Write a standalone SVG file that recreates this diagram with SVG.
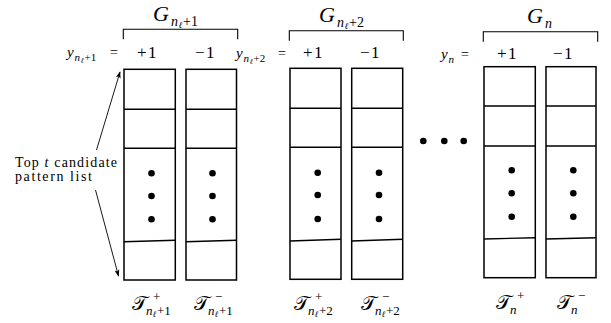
<svg xmlns="http://www.w3.org/2000/svg" width="611" height="323" viewBox="0 0 611 323">
<defs>
<style>
.box{fill:#fff;stroke:#000;stroke-width:1.5}
.div{stroke:#000;stroke-width:1.4;fill:none}
.br{stroke:#000;stroke-width:1.1;fill:none}
.dot{fill:#000}
text{font-family:"Liberation Serif","DejaVu Serif",serif;fill:#000}
.m{font-style:italic}
.u{font-style:normal}
.cal{font-family:"DejaVu Sans","Noto Sans",serif;font-style:normal}
.conn{stroke:#000;stroke-width:0.9;fill:none}
</style>
<marker id="ah" viewBox="0 0 10 10" refX="9" refY="5" markerWidth="7" markerHeight="7" orient="auto" markerUnits="userSpaceOnUse">
<path d="M0,1.5 L10,5 L0,8.5 L2.5,5 Z" fill="#000"/>
</marker>
</defs>
<rect width="611" height="323" fill="#fff"/>

<!-- group headers -->
<g id="header1">
<path class="br" d="M123.3,39.3 V29.3 H237.7 V39.3"/>
<text><tspan class="m" x="153" y="21" font-size="22">G</tspan><tspan class="m" x="171" y="25.5" font-size="14">n</tspan><tspan class="m" x="178.5" y="28" font-size="9">ℓ</tspan><tspan class="u" x="183" y="25.5" font-size="14">+1</tspan></text>
<text><tspan class="m" x="67" y="57" font-size="15">y</tspan><tspan class="m" x="74.5" y="60.5" font-size="11">n</tspan><tspan class="m" x="80.5" y="62.5" font-size="7.5">ℓ</tspan><tspan class="u" x="84.5" y="60.5" font-size="11">+1</tspan><tspan class="u" x="110" y="57" font-size="14">=</tspan></text>
<text class="u" x="137" y="58" font-size="17" letter-spacing="1.5">+1</text>
<text class="u" x="195" y="58" font-size="17" letter-spacing="1.5">−1</text>
</g>
<g id="header2">
<path class="br" d="M289.3,40.7 V30.7 H403.3 V40.7"/>
<text><tspan class="m" x="319" y="22" font-size="22">G</tspan><tspan class="m" x="337" y="26.5" font-size="14">n</tspan><tspan class="m" x="344.5" y="29" font-size="9">ℓ</tspan><tspan class="u" x="349" y="26.5" font-size="14">+2</tspan></text>
<text><tspan class="m" x="236" y="58" font-size="15">y</tspan><tspan class="m" x="243.5" y="61.5" font-size="11">n</tspan><tspan class="m" x="249.5" y="63.5" font-size="7.5">ℓ</tspan><tspan class="u" x="253.5" y="61.5" font-size="11">+2</tspan><tspan class="u" x="278" y="58" font-size="14">=</tspan></text>
<text class="u" x="303" y="58" font-size="17" letter-spacing="1.5">+1</text>
<text class="u" x="360" y="58" font-size="17" letter-spacing="1.5">−1</text>
</g>
<g id="header3">
<path class="br" d="M483.3,41.7 V31.7 H597.7 V41.7"/>
<text><tspan class="m" x="527" y="23" font-size="22">G</tspan><tspan class="m" x="545" y="27.5" font-size="14">n</tspan></text>
<text><tspan class="m" x="441" y="59" font-size="15">y</tspan><tspan class="m" x="448.5" y="62.5" font-size="11">n</tspan><tspan class="u" x="461" y="59" font-size="14">=</tspan></text>
<text class="u" x="497" y="59" font-size="17" letter-spacing="1.5">+1</text>
<text class="u" x="553" y="59" font-size="17" letter-spacing="1.5">−1</text>
</g>

<!-- columns -->
<g id="col1">
<rect class="box" x="124" y="69.3" width="51.3" height="210.7"/>
<line class="div" x1="124" y1="109.3" x2="175.3" y2="109.3"/>
<line class="div" x1="124" y1="148.3" x2="175.3" y2="148.3"/>
<line class="div" x1="124" y1="241.7" x2="175.3" y2="240.3"/>
<circle class="dot" cx="151.5" cy="173.3" r="3.3"/>
<circle class="dot" cx="151.5" cy="196" r="3.3"/>
<circle class="dot" cx="151.5" cy="219.3" r="3.3"/>
</g>
<g id="col2">
<rect class="box" x="186" y="69.3" width="50.5" height="210.7"/>
<line class="div" x1="186" y1="109.3" x2="236.5" y2="109.3"/>
<line class="div" x1="186" y1="148.3" x2="236.5" y2="148.3"/>
<line class="div" x1="186" y1="241.7" x2="236.5" y2="240.3"/>
<circle class="dot" cx="212.5" cy="173.3" r="3.3"/>
<circle class="dot" cx="212.5" cy="196" r="3.3"/>
<circle class="dot" cx="212.5" cy="219.3" r="3.3"/>
</g>
<g id="col3">
<rect class="box" x="290" y="68.3" width="51" height="211"/>
<line class="div" x1="290" y1="108.3" x2="341" y2="108.3"/>
<line class="div" x1="290" y1="147.3" x2="341" y2="147.3"/>
<line class="div" x1="290" y1="241" x2="341" y2="239.3"/>
<circle class="dot" cx="317.7" cy="172.7" r="3.3"/>
<circle class="dot" cx="317.7" cy="195" r="3.3"/>
<circle class="dot" cx="317.7" cy="219" r="3.3"/>
</g>
<g id="col4">
<rect class="box" x="351.7" y="68.3" width="51" height="211"/>
<line class="div" x1="351.7" y1="108.3" x2="402.7" y2="108.3"/>
<line class="div" x1="351.7" y1="147.3" x2="402.7" y2="147.3"/>
<line class="div" x1="351.7" y1="241" x2="402.7" y2="239.3"/>
<circle class="dot" cx="379" cy="172.7" r="3.3"/>
<circle class="dot" cx="379" cy="195" r="3.3"/>
<circle class="dot" cx="379" cy="219" r="3.3"/>
</g>
<g id="hdots">
<circle class="dot" cx="423.3" cy="141" r="3.3"/>
<circle class="dot" cx="444.3" cy="141" r="3.3"/>
<circle class="dot" cx="463.7" cy="141" r="3.3"/>
</g>
<g id="col5">
<rect class="box" x="484" y="66.7" width="51.3" height="211"/>
<line class="div" x1="484" y1="106" x2="535.3" y2="106"/>
<line class="div" x1="484" y1="146" x2="535.3" y2="146"/>
<line class="div" x1="484" y1="239" x2="535.3" y2="237.7"/>
<circle class="dot" cx="511.7" cy="170.3" r="3.3"/>
<circle class="dot" cx="511.7" cy="193.3" r="3.3"/>
<circle class="dot" cx="511.7" cy="216.7" r="3.3"/>
</g>
<g id="col6">
<rect class="box" x="546" y="66.7" width="50" height="211"/>
<line class="div" x1="546" y1="106" x2="596" y2="106"/>
<line class="div" x1="546" y1="146" x2="596" y2="146"/>
<line class="div" x1="546" y1="239" x2="596" y2="237.7"/>
<circle class="dot" cx="573.3" cy="170.3" r="3.3"/>
<circle class="dot" cx="573.3" cy="193.3" r="3.3"/>
<circle class="dot" cx="573.3" cy="216.7" r="3.3"/>
</g>

<!-- left label -->
<g id="label">
<text class="u" x="15" y="166.5" font-size="14" textLength="102" lengthAdjust="spacing">Top <tspan class="m">t</tspan> candidate</text>
<text class="u" x="15" y="180.5" font-size="14" textLength="77" lengthAdjust="spacing">pattern list</text>
</g>

<!-- bottom labels -->
<g id="t1">
<text><tspan class="cal" x="132" y="310" font-size="20">𝒯</tspan><tspan class="u" x="153" y="301" font-size="13">+</tspan><tspan class="m" x="146" y="314.5" font-size="13">n</tspan><tspan class="m" x="152.5" y="317" font-size="8.5">ℓ</tspan><tspan class="u" x="157" y="314.5" font-size="13">+1</tspan></text>
</g>
<g id="t2">
<text><tspan class="cal" x="194" y="310" font-size="20">𝒯</tspan><tspan class="u" x="215" y="301" font-size="13">−</tspan><tspan class="m" x="208" y="314.5" font-size="13">n</tspan><tspan class="m" x="214.5" y="317" font-size="8.5">ℓ</tspan><tspan class="u" x="219" y="314.5" font-size="13">+1</tspan></text>
</g>
<g id="t3">
<text><tspan class="cal" x="294" y="310" font-size="20">𝒯</tspan><tspan class="u" x="315" y="301" font-size="13">+</tspan><tspan class="m" x="308" y="314.5" font-size="13">n</tspan><tspan class="m" x="314.5" y="317" font-size="8.5">ℓ</tspan><tspan class="u" x="319" y="314.5" font-size="13">+2</tspan></text>
</g>
<g id="t4">
<text><tspan class="cal" x="361" y="310" font-size="20">𝒯</tspan><tspan class="u" x="382" y="301" font-size="13">−</tspan><tspan class="m" x="375" y="314.5" font-size="13">n</tspan><tspan class="m" x="381.5" y="317" font-size="8.5">ℓ</tspan><tspan class="u" x="386" y="314.5" font-size="13">+2</tspan></text>
</g>
<g id="t5">
<text><tspan class="cal" x="496" y="309" font-size="20">𝒯</tspan><tspan class="u" x="517" y="300" font-size="13">+</tspan><tspan class="m" x="510" y="313.5" font-size="13">n</tspan></text>
</g>
<g id="t6">
<text><tspan class="cal" x="557" y="309" font-size="20">𝒯</tspan><tspan class="u" x="578" y="300" font-size="13">−</tspan><tspan class="m" x="571" y="313.5" font-size="13">n</tspan></text>
</g>

<!-- connectors -->
<g id="connectors">
<line class="conn" x1="96.5" y1="150" x2="120" y2="72" marker-end="url(#ah)"/>
<line class="conn" x1="95.5" y1="190" x2="118.5" y2="276" marker-end="url(#ah)"/>
</g>
</svg>
